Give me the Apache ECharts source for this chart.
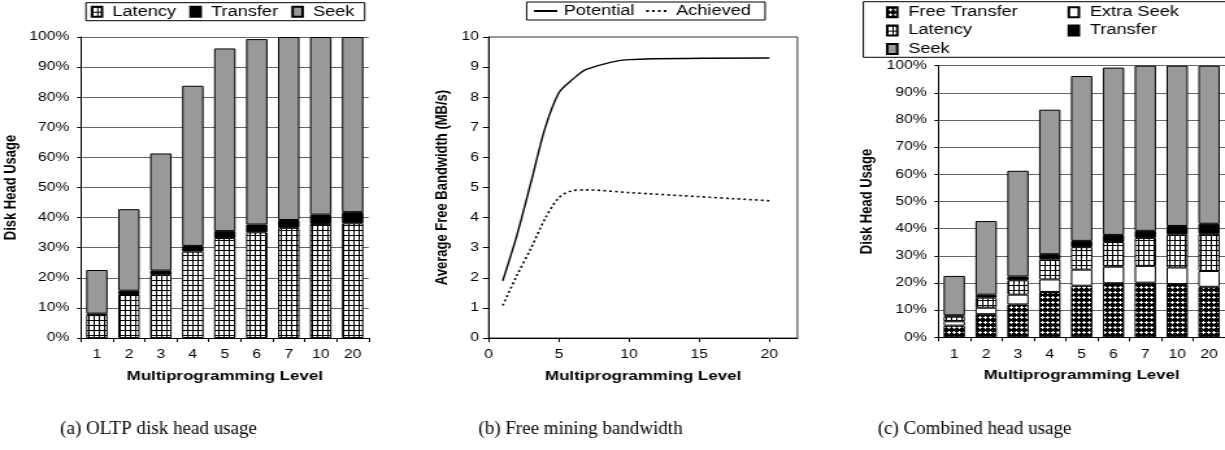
<!DOCTYPE html>
<html>
<head>
<meta charset="utf-8">
<script src="https://cdn.jsdelivr.net/npm/echarts@6/dist/echarts.min.js"></script>
<style>
html,body{margin:0;padding:0;background:#fff;overflow:hidden;width:1225px;height:450px;}
#chart{position:absolute;left:0;top:0;width:943px;height:450px;transform-origin:0 0;}
</style>
</head>
<body>
<div id="chart"></div>
<script>
// ---- data ----
const categories = ['1', '2', '3', '4', '5', '6', '7', '10', '20'];
// panel (a) OLTP disk head usage (%)
const latencyA = [7.6, 14.6, 21.0, 28.7, 33.2, 35.1, 36.6, 37.9, 38.1];
const transferA = [0.5, 1.1, 1.4, 1.9, 2.3, 2.6, 2.6, 3.1, 3.7];
const seekA = [14.5, 27.1, 38.9, 53.2, 60.7, 61.6, 60.8, 59.0, 58.2];
// panel (b) free mining bandwidth (MB/s)
const mplLevels = [1, 2, 3, 4, 5, 6, 7, 10, 20];
const potential = [1.9, 3.4, 5.15, 6.95, 8.15, 8.6, 8.93, 9.25, 9.3];
const achieved = [1.08, 2.07, 2.97, 3.95, 4.66, 4.9, 4.92, 4.83, 4.56];
// panel (c) combined head usage (%)
const freeTransferC = [4.3, 8.5, 12.1, 16.7, 19.0, 19.9, 20.1, 19.6, 18.6];
const extraSeekC = [1.6, 2.4, 3.6, 4.6, 5.9, 6.1, 6.2, 6.1, 5.8];
const latencyC = [1.7, 3.7, 5.3, 7.4, 8.3, 9.1, 10.3, 12.2, 13.7];
const transferC = transferA;
const seekC = seekA;
const percentTicks = [0, 10, 20, 30, 40, 50, 60, 70, 80, 90, 100];
const captions = ['(a) OLTP disk head usage', '(b) Free mining bandwidth', '(c) Combined head usage'];

// ---- layout ----
const S = 1225 / 943; // horizontal stretch of the original figure
const dom = document.getElementById('chart');
dom.style.transform = 'scaleX(' + S + ')';
const FONT = '"Liberation Sans", Arial, sans-serif';

function gridPattern() {
  const c = document.createElement('canvas');
  c.width = 4; c.height = 5;
  const g = c.getContext('2d');
  g.fillStyle = '#fff'; g.fillRect(0, 0, 4, 5);
  g.fillStyle = '#000'; g.fillRect(0, 0, 1, 5); g.fillRect(0, 0, 4, 1);
  return c;
}
function checkPattern() {
  const c = document.createElement('canvas');
  c.width = 4; c.height = 5;
  const g = c.getContext('2d');
  g.fillStyle = '#000'; g.fillRect(0, 0, 4, 5);
  g.fillStyle = '#fff';
  g.fillRect(2, 1, 1, 3); g.fillRect(1, 2, 3, 1);
  return c;
}
const latFill = { image: gridPattern(), repeat: 'repeat' };
const freeFill = { image: checkPattern(), repeat: 'repeat' };
const border = { borderColor: '#000', borderWidth: 1 };

function catAxis(gi) {
  return {
    type: 'category', gridIndex: gi, data: categories,
    name: 'Multiprogramming Level', nameLocation: 'middle', nameGap: 32,
    nameTextStyle: { fontFamily: FONT, fontSize: 13, fontWeight: 'bold', color: '#000' },
    axisLine: { show: true, lineStyle: { color: '#000', width: 1 } },
    axisTick: { show: true, length: 4, lineStyle: { color: '#000' } },
    axisLabel: { fontFamily: FONT, fontSize: 12, color: '#000', margin: 11 },
    splitLine: { show: false }
  };
}
function pctAxis(gi, gap) {
  return {
    type: 'value', gridIndex: gi, min: percentTicks[0], max: percentTicks[percentTicks.length - 1], interval: 10,
    name: 'Disk Head Usage', nameLocation: 'middle', nameGap: gap,
    nameTextStyle: { fontFamily: FONT, fontSize: 13, fontWeight: 'bold', color: '#000' },
    axisLine: { show: true, lineStyle: { color: '#000', width: 1 } },
    axisTick: { show: true, length: 3, lineStyle: { color: '#000' } },
    axisLabel: { fontFamily: FONT, fontSize: 12, color: '#000', margin: 9, formatter: '{value}%' },
    splitLine: { show: true, lineStyle: { color: '#666', width: 1 } }
  };
}
function bar(name, data, gi, color, extra) {
  return Object.assign({
    name: name, type: 'bar', stack: 'g' + gi, xAxisIndex: gi, yAxisIndex: gi,
    data: data, barWidth: '67%', itemStyle: Object.assign({ color: color }, border),
    emphasis: { disabled: true }, animation: false
  }, extra || {});
}

const option = {
  animation: false,
  backgroundColor: '#fff',
  textStyle: { fontFamily: FONT },
  grid: [
    { left: 62.3, top: 37, width: 221.5, height: 301 },
    { left: 376.2, top: 37, width: 237.7, height: 301, show: true, borderColor: '#333', borderWidth: 1, backgroundColor: 'transparent' },
    { left: 722.3, top: 65.7, width: 221.5, height: 271.6 }
  ],
  legend: [
    { left: 66.2, top: 2.7, padding: [2, 7.9, 2, 3.6], itemGap: 10.2, itemWidth: 7.7, itemHeight: 10, icon: 'rect',
      borderColor: '#000', borderWidth: 1, selectedMode: false,
      textStyle: { fontFamily: FONT, fontSize: 14, color: '#000', padding: [0, 0, 0, 3] },
      data: ['Latency', 'Transfer', 'Seek'] },
    { left: 405.4, top: 2, padding: [2, 10.9, 2, 4.6], itemGap: 8, itemWidth: 18, itemHeight: 10,
      borderColor: '#000', borderWidth: 1, selectedMode: false,
      itemStyle: { color: 'rgba(0,0,0,0)', borderColor: 'rgba(0,0,0,0)', borderWidth: 0, opacity: 0 },
      textStyle: { fontFamily: FONT, fontSize: 14, color: '#000' },
      data: ['Potential', 'Achieved'] },
    { left: 682, top: 5.3, orient: 'vertical', padding: 0, itemGap: 4.3, itemWidth: 7.7, itemHeight: 10, icon: 'rect', selectedMode: false,
      textStyle: { fontFamily: FONT, fontSize: 14, color: '#000', padding: [0, 0, 0, 3.5] },
      data: ['Free Transfer', 'Latency', 'Seek'] },
    { left: 821.8, top: 5.3, orient: 'vertical', padding: 0, itemGap: 4.3, itemWidth: 7.7, itemHeight: 10, icon: 'rect', selectedMode: false,
      textStyle: { fontFamily: FONT, fontSize: 14, color: '#000', padding: [0, 0, 0, 3.5] },
      data: ['Extra Seek', 'Transfer'] }
  ],
  xAxis: [
    catAxis(0),
    { type: 'value', gridIndex: 1, min: 0, max: 22, interval: 5,
      name: 'Multiprogramming Level', nameLocation: 'middle', nameGap: 32,
      nameTextStyle: { fontFamily: FONT, fontSize: 13, fontWeight: 'bold', color: '#000' },
      axisLine: { show: true, lineStyle: { color: '#000', width: 1 } },
      axisTick: { show: true, length: 4, lineStyle: { color: '#000' } },
      axisLabel: { fontFamily: FONT, fontSize: 12, color: '#000', margin: 11, showMaxLabel: false },
      splitLine: { show: false } },
    catAxis(2)
  ],
  yAxis: [
    pctAxis(0, 47),
    { type: 'value', gridIndex: 1, min: 0, max: 10, interval: 1,
      name: 'Average Free Bandwidth (MB/s)', nameLocation: 'middle', nameGap: 29,
      nameTextStyle: { fontFamily: FONT, fontSize: 13, fontWeight: 'bold', color: '#000' },
      axisLine: { show: true, lineStyle: { color: '#000', width: 1 } },
      axisTick: { show: true, length: 4.4, lineStyle: { color: '#000' } },
      axisLabel: { fontFamily: FONT, fontSize: 12, color: '#000', margin: 7.5 },
      splitLine: { show: false } },
    pctAxis(2, 48)
  ],
  series: [
    bar('Latency', latencyA, 0, latFill),
    bar('Transfer', transferA, 0, '#000'),
    bar('Seek', seekA, 0, '#999999'),
    { name: 'Potential', type: 'line', xAxisIndex: 1, yAxisIndex: 1, symbol: 'none', smooth: 0.3,
      data: mplLevels.map((x, i) => [x, potential[i]]),
      lineStyle: { color: '#000', width: 1.4, type: 'solid' }, itemStyle: { color: '#000' } },
    { name: 'Achieved', type: 'line', xAxisIndex: 1, yAxisIndex: 1, symbol: 'none', smooth: 0.3,
      data: mplLevels.map((x, i) => [x, achieved[i]]),
      lineStyle: { color: '#000', width: 1.6, type: [2, 2.5] }, itemStyle: { color: '#000' } },
    bar('Free Transfer', freeTransferC, 2, freeFill),
    bar('Extra Seek', extraSeekC, 2, '#fff'),
    bar('Latency', latencyC, 2, latFill),
    bar('Transfer', transferC, 2, '#000'),
    bar('Seek', seekC, 2, '#999999')
  ],
  graphic: [
    { type: 'rect', shape: { x: 664.6, y: 1.7, width: 320, height: 55.6 }, style: { fill: 'none', stroke: '#000', lineWidth: 1 }, silent: true },
    { type: 'text', x: 158.5 / S, y: 429, scaleX: 1 / S, silent: true,
      style: { text: captions[0], align: 'center', verticalAlign: 'middle', font: '19px "Liberation Serif", serif', fill: '#000' } },
    { type: 'text', x: 580.5 / S, y: 429, scaleX: 1 / S, silent: true,
      style: { text: captions[1], align: 'center', verticalAlign: 'middle', font: '19px "Liberation Serif", serif', fill: '#000' } },
    { type: 'text', x: 974.5 / S, y: 429, scaleX: 1 / S, silent: true,
      style: { text: captions[2], align: 'center', verticalAlign: 'middle', font: '19px "Liberation Serif", serif', fill: '#000' } }
  ]
};
const chart = echarts.init(dom, null, { renderer: 'canvas' });
chart.setOption(option);
</script>
</body>
</html>
